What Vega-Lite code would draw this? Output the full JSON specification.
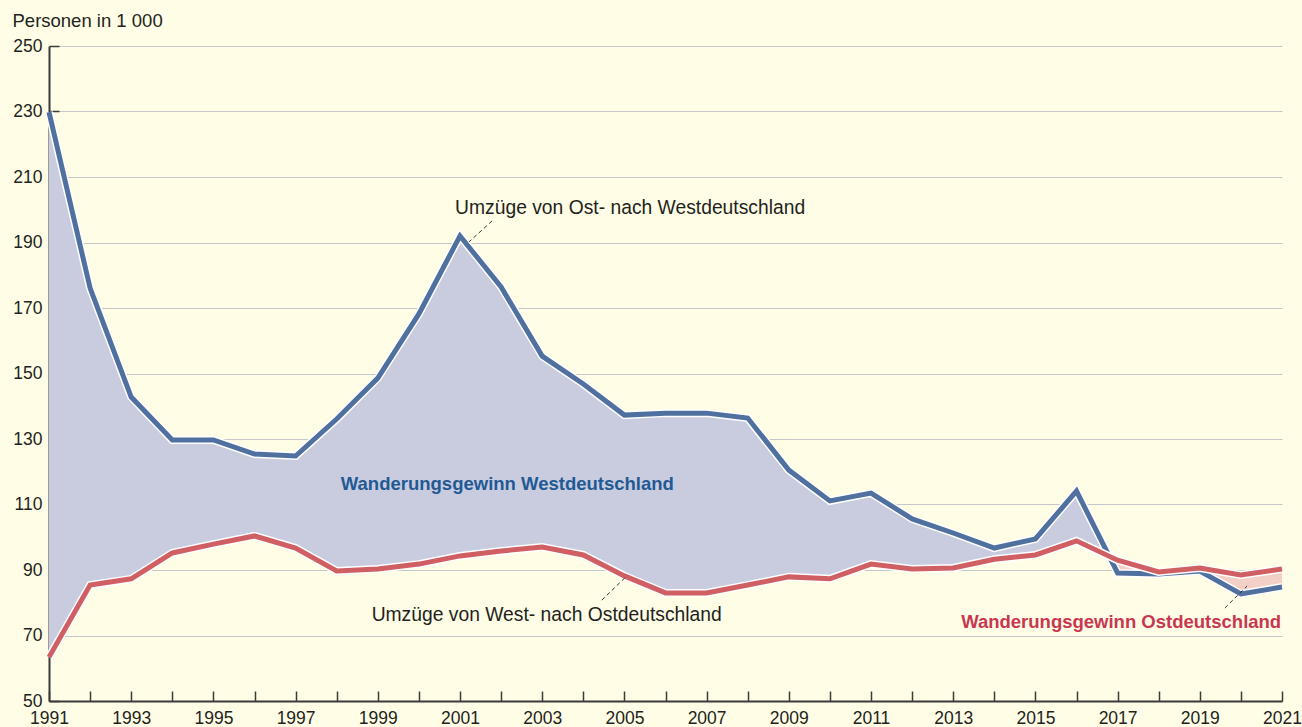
{
  "$schema": "https://vega.github.io/schema/vega-lite/v6.json",
  "width": 1233,
  "height": 655,
  "autosize": {"type": "none"},
  "padding": {"left": 49, "top": 46, "right": 20, "bottom": 26},
  "background": "#fffde6",
  "config": {
    "view": {"stroke": null},
    "font": "Liberation Sans",
    "axis": {"labelFont": "Liberation Sans", "titleFont": "Liberation Sans"}
  },
  "datasets": {
    "rows": [
      {"year": 1991, "west": 229.8, "east": 63.4},
      {"year": 1992, "west": 176.1, "east": 85.4},
      {"year": 1993, "west": 142.8, "east": 87.3},
      {"year": 1994, "west": 129.7, "east": 95.2},
      {"year": 1995, "west": 129.7, "east": 97.9},
      {"year": 1996, "west": 125.4, "east": 100.4},
      {"year": 1997, "west": 124.8, "east": 96.7},
      {"year": 1998, "west": 136.1, "east": 89.7},
      {"year": 1999, "west": 148.6, "east": 90.3},
      {"year": 2000, "west": 168.2, "east": 91.8},
      {"year": 2001, "west": 192.0, "east": 94.3},
      {"year": 2002, "west": 176.4, "east": 95.8},
      {"year": 2003, "west": 155.3, "east": 97.0},
      {"year": 2004, "west": 146.8, "east": 94.6},
      {"year": 2005, "west": 137.3, "east": 88.2},
      {"year": 2006, "west": 137.9, "east": 83.0},
      {"year": 2007, "west": 137.9, "east": 83.0},
      {"year": 2008, "west": 136.4, "east": 85.4},
      {"year": 2009, "west": 120.5, "east": 87.9},
      {"year": 2010, "west": 111.1, "east": 87.3},
      {"year": 2011, "west": 113.5, "east": 91.8},
      {"year": 2012, "west": 105.6, "east": 90.3},
      {"year": 2013, "west": 101.3, "east": 90.6},
      {"year": 2014, "west": 96.7, "east": 93.3},
      {"year": 2015, "west": 99.5, "east": 94.6},
      {"year": 2016, "west": 114.1, "east": 98.9},
      {"year": 2017, "west": 89.1, "east": 93.0},
      {"year": 2018, "west": 88.8, "east": 89.4},
      {"year": 2019, "west": 89.7, "east": 90.6},
      {"year": 2020, "west": 82.7, "east": 88.5},
      {"year": 2021, "west": 84.8, "east": 90.3}
    ],
    "gap": [
      {"year": 1991, "west": 229.8, "east": 63.4, "side": "West"},
      {"year": 1992, "west": 176.1, "east": 85.4, "side": "West"},
      {"year": 1993, "west": 142.8, "east": 87.3, "side": "West"},
      {"year": 1994, "west": 129.7, "east": 95.2, "side": "West"},
      {"year": 1995, "west": 129.7, "east": 97.9, "side": "West"},
      {"year": 1996, "west": 125.4, "east": 100.4, "side": "West"},
      {"year": 1997, "west": 124.8, "east": 96.7, "side": "West"},
      {"year": 1998, "west": 136.1, "east": 89.7, "side": "West"},
      {"year": 1999, "west": 148.6, "east": 90.3, "side": "West"},
      {"year": 2000, "west": 168.2, "east": 91.8, "side": "West"},
      {"year": 2001, "west": 192.0, "east": 94.3, "side": "West"},
      {"year": 2002, "west": 176.4, "east": 95.8, "side": "West"},
      {"year": 2003, "west": 155.3, "east": 97.0, "side": "West"},
      {"year": 2004, "west": 146.8, "east": 94.6, "side": "West"},
      {"year": 2005, "west": 137.3, "east": 88.2, "side": "West"},
      {"year": 2006, "west": 137.9, "east": 83.0, "side": "West"},
      {"year": 2007, "west": 137.9, "east": 83.0, "side": "West"},
      {"year": 2008, "west": 136.4, "east": 85.4, "side": "West"},
      {"year": 2009, "west": 120.5, "east": 87.9, "side": "West"},
      {"year": 2010, "west": 111.1, "east": 87.3, "side": "West"},
      {"year": 2011, "west": 113.5, "east": 91.8, "side": "West"},
      {"year": 2012, "west": 105.6, "east": 90.3, "side": "West"},
      {"year": 2013, "west": 101.3, "east": 90.6, "side": "West"},
      {"year": 2014, "west": 96.7, "east": 93.3, "side": "West"},
      {"year": 2015, "west": 99.5, "east": 94.6, "side": "West"},
      {"year": 2016, "west": 114.1, "east": 98.9, "side": "West"},
      {"year": 2016.77, "west": 94.9, "east": 94.9, "side": "West"},
      {"year": 2016.77, "west": 94.9, "east": 94.9, "side": "Ost"},
      {"year": 2017, "west": 89.1, "east": 93.0, "side": "Ost"},
      {"year": 2018, "west": 88.8, "east": 89.4, "side": "Ost"},
      {"year": 2019, "west": 89.7, "east": 90.6, "side": "Ost"},
      {"year": 2020, "west": 82.7, "east": 88.5, "side": "Ost"},
      {"year": 2021, "west": 84.8, "east": 90.3, "side": "Ost"}
    ],
    "one": [{}]
  },
  "layer": [
    {
      "data": {"name": "gap"},
      "mark": {"type": "area", "interpolate": "linear"},
      "encoding": {
        "x": {
          "field": "year", "type": "quantitative",
          "scale": {"domain": [1991, 2021], "nice": false, "zero": false},
          "axis": {
            "title": null,
            "values": [1991,1992,1993,1994,1995,1996,1997,1998,1999,2000,2001,2002,2003,2004,2005,2006,2007,2008,2009,2010,2011,2012,2013,2014,2015,2016,2017,2018,2019,2020,2021],
            "format": "d",
            "labelExpr": "datum.value % 2 == 1 ? datum.label : ''",
            "labelOverlap": false,
            "labelFlush": false,
            "labelFontSize": 17.5,
            "labelColor": "#231f20",
            "labelPadding": 18,
            "tickSize": -10,
            "tickWidth": 1.5,
            "tickColor": "#3a3a3a",
            "domainColor": "#3a3a3a",
            "domainWidth": 2,
            "grid": false
          }
        },
        "y": {
          "field": "west", "type": "quantitative", "stack": null,
          "scale": {"domain": [50, 250], "nice": false, "zero": false},
          "axis": {
            "title": "Personen in 1 000",
            "titleAngle": 0,
            "titleAlign": "left",
            "titleBaseline": "alphabetic",
            "titleX": -37,
            "titleY": -20,
            "titleFontSize": 18.5,
            "titleFontWeight": "normal",
            "titleColor": "#231f20",
            "values": [50, 70, 90, 110, 130, 150, 170, 190, 210, 230, 250],
            "labelFontSize": 17.5,
            "labelColor": "#231f20",
            "labelPadding": 17,
            "tickSize": -10,
            "tickWidth": 1.5,
            "tickColor": "#3a3a3a",
            "domainColor": "#3a3a3a",
            "domainWidth": 2,
            "grid": true,
            "gridColor": "#c6c6cc",
            "gridWidth": 1.2
          }
        },
        "y2": {"field": "east"},
        "color": {
          "field": "side", "type": "nominal",
          "scale": {"domain": ["West", "Ost"], "range": ["#c9cbdf", "#f2d0c8"]},
          "legend": null
        }
      }
    },
    {
      "data": {"name": "rows"},
      "mark": {"type": "line", "color": "#ffffff", "strokeWidth": 8, "strokeJoin": "miter"},
      "encoding": {
        "x": {"field": "year", "type": "quantitative"},
        "y": {"field": "west", "type": "quantitative"}
      }
    },
    {
      "data": {"name": "rows"},
      "mark": {"type": "line", "color": "#50709f", "strokeWidth": 5, "strokeJoin": "miter"},
      "encoding": {
        "x": {"field": "year", "type": "quantitative"},
        "y": {"field": "west", "type": "quantitative"}
      }
    },
    {
      "data": {"name": "rows"},
      "mark": {"type": "line", "color": "#ffffff", "strokeWidth": 8, "strokeJoin": "miter"},
      "encoding": {
        "x": {"field": "year", "type": "quantitative"},
        "y": {"field": "east", "type": "quantitative"}
      }
    },
    {
      "data": {"name": "rows"},
      "mark": {"type": "line", "color": "#d05f64", "strokeWidth": 5, "strokeJoin": "miter"},
      "encoding": {
        "x": {"field": "year", "type": "quantitative"},
        "y": {"field": "east", "type": "quantitative"}
      }
    },
    {
      "data": {"name": "one"},
      "mark": {"type": "rule", "color": "#333333", "strokeWidth": 1, "strokeDash": [4, 3]},
      "encoding": {
        "x": {"datum": 2001.78, "type": "quantitative"},
        "y": {"datum": 196.6, "type": "quantitative"},
        "x2": {"datum": 2001.22},
        "y2": {"datum": 190.2}
      }
    },
    {
      "data": {"name": "one"},
      "mark": {"type": "rule", "color": "#333333", "strokeWidth": 1, "strokeDash": [4, 3]},
      "encoding": {
        "x": {"datum": 2004.45, "type": "quantitative"},
        "y": {"datum": 80.8, "type": "quantitative"},
        "x2": {"datum": 2005.01},
        "y2": {"datum": 87.6}
      }
    },
    {
      "data": {"name": "one"},
      "mark": {"type": "rule", "color": "#333333", "strokeWidth": 1, "strokeDash": [4, 3]},
      "encoding": {
        "x": {"datum": 2019.61, "type": "quantitative"},
        "y": {"datum": 78.4, "type": "quantitative"},
        "x2": {"datum": 2020.15},
        "y2": {"datum": 85.1}
      }
    },
    {
      "data": {"name": "one"},
      "mark": {"type": "text", "text": "Umzüge von Ost- nach Westdeutschland", "align": "left", "baseline": "middle", "fontSize": 19.3, "color": "#231f20"},
      "encoding": {
        "x": {"datum": 2000.88, "type": "quantitative"},
        "y": {"datum": 200.6, "type": "quantitative"}
      }
    },
    {
      "data": {"name": "one"},
      "mark": {"type": "text", "text": "Umzüge von West- nach Ostdeutschland", "align": "left", "baseline": "middle", "fontSize": 19.3, "color": "#231f20"},
      "encoding": {
        "x": {"datum": 1998.85, "type": "quantitative"},
        "y": {"datum": 76.4, "type": "quantitative"}
      }
    },
    {
      "data": {"name": "one"},
      "mark": {"type": "text", "text": "Wanderungsgewinn Westdeutschland", "align": "left", "baseline": "middle", "fontSize": 18.5, "fontWeight": "bold", "color": "#1f5a94"},
      "encoding": {
        "x": {"datum": 1998.1, "type": "quantitative"},
        "y": {"datum": 116.4, "type": "quantitative"}
      }
    },
    {
      "data": {"name": "one"},
      "mark": {"type": "text", "text": "Wanderungsgewinn Ostdeutschland", "align": "right", "baseline": "middle", "fontSize": 18.5, "fontWeight": "bold", "color": "#c8374f"},
      "encoding": {
        "x": {"datum": 2020.98, "type": "quantitative"},
        "y": {"datum": 74.0, "type": "quantitative"}
      }
    }
  ]
}
